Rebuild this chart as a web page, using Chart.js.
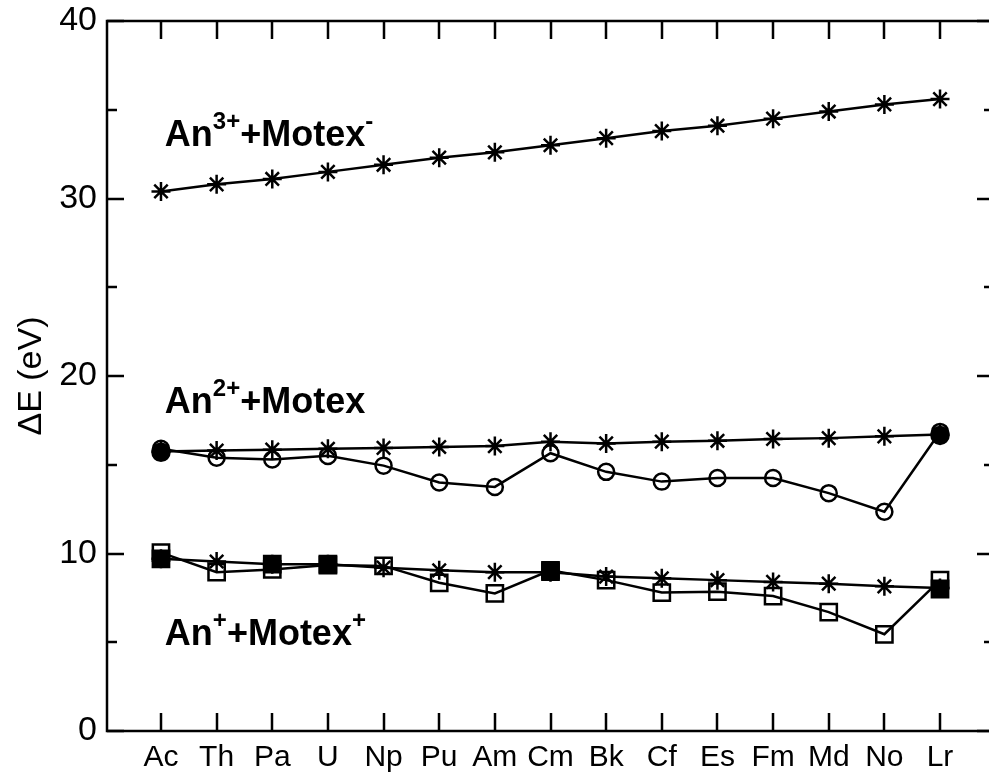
<!DOCTYPE html>
<html><head><meta charset="utf-8">
<script src="https://cdn.jsdelivr.net/npm/chart.js@4"></script>
<style>
html,body{margin:0;padding:0;background:#fff;overflow:hidden}
#wrap{width:989px;height:779px;overflow:hidden;position:relative;background:#fff}
canvas{display:block}
</style></head>
<body><div id="wrap"><canvas id="c" width="1000" height="779"></canvas></div>
<script>
// ---- data ----
const categories = ['Ac','Th','Pa','U','Np','Pu','Am','Cm','Bk','Cf','Es','Fm','Md','No','Lr'];
const an3Star   = [30.4,30.8,31.1,31.5,31.9,32.3,32.6,33.0,33.4,33.8,34.1,34.5,34.9,35.3,35.6];
const an2Star   = [15.75,15.8,15.85,15.9,15.95,16.0,16.05,16.3,16.2,16.3,16.35,16.45,16.5,16.6,16.7];
const an2Circle = [15.9,15.4,15.3,15.5,14.95,14.0,13.75,15.65,14.6,14.05,14.25,14.25,13.4,12.35,16.85];
const an2Filled = [15.7,null,null,null,null,null,null,null,null,null,null,null,null,null,16.65];
const an1Star   = [9.7,9.55,9.4,9.4,9.2,9.05,8.95,8.95,8.7,8.6,8.5,8.4,8.3,8.15,8.05];
const an1Square = [10.05,8.95,9.1,9.35,9.3,8.35,7.75,9.05,8.5,7.8,7.85,7.6,6.7,5.45,8.5];
const an1Filled = [9.7,null,9.4,9.4,null,null,null,8.98,null,null,null,null,null,null,8.0];
const yTickValues = [0,10,20,30,40];
const seriesLabels = [
  [['An',0],['3+',1],['+Motex',0],['-',1]],
  [['An',0],['2+',1],['+Motex',0]],
  [['An',0],['+',1],['+Motex',0],['+',1]]
];

const pts = arr => arr.map((v,i)=>({x:i,y:v}));

const framePlugin = {
  id: 'framePlugin',
  beforeDatasetsDraw(chart) {
    const {ctx, chartArea: a, scales: {x, y}} = chart;
    ctx.save();
    ctx.strokeStyle = '#000';
    ctx.lineWidth = 2.5;
    ctx.strokeRect(a.left, a.top, a.right - a.left, a.bottom - a.top);
    ctx.beginPath();
    for (let v = y.min; v <= y.max; v += 5) {
      const py = Math.round(y.getPixelForValue(v));
      const len = (v % 10 === 0) ? 17 : 10;
      ctx.moveTo(a.left, py); ctx.lineTo(a.left + len, py);
      ctx.moveTo(a.right, py); ctx.lineTo(a.right - len, py);
    }
    categories.forEach((c, i) => {
      const px = Math.round(x.getPixelForValue(i));
      ctx.moveTo(px, a.bottom); ctx.lineTo(px, a.bottom - 18);
      ctx.moveTo(px, a.top); ctx.lineTo(px, a.top + 18);
    });
    ctx.stroke();
    ctx.restore();
  },
  afterDatasetsDraw(chart, args, opts) {
    const {ctx, scales: {x, y}} = chart;
    ctx.save();
    ctx.fillStyle = '#000';
    ctx.textBaseline = 'alphabetic';
    ctx.textAlign = 'left';
    seriesLabels.forEach((parts, k) => {
      const anchor = opts.anchors[k];
      let px = x.getPixelForValue(anchor[0]);
      const py = y.getPixelForValue(anchor[1]);
      parts.forEach(([t, sup]) => {
        ctx.font = sup ? 'bold 24px "Liberation Sans", Arial, sans-serif'
                       : 'bold 36px "Liberation Sans", Arial, sans-serif';
        ctx.fillText(t, px, sup ? py - 17 : py);
        px += ctx.measureText(t).width;
      });
    });
    ctx.restore();
  }
};

const base = {borderColor:'#000', borderWidth:2.5, tension:0, fill:false,
  pointBorderColor:'#000', pointBorderWidth:2.5, pointHoverRadius:0};

new Chart(document.getElementById('c'), {
  type: 'line',
  data: {
    datasets: [
      {...base, data: pts(an2Filled), showLine:false, pointStyle:'circle', pointRadius:8.5, pointBackgroundColor:'#000'},
      {...base, data: pts(an1Filled), showLine:false, pointStyle:'rect', pointRadius:11.5, pointBackgroundColor:'#000'},
      {...base, data: pts(an3Star), pointStyle:'star', pointRadius:9.5, pointBackgroundColor:'#000'},
      {...base, data: pts(an2Star), pointStyle:'star', pointRadius:9.5, pointBackgroundColor:'#000'},
      {...base, data: pts(an1Star), pointStyle:'star', pointRadius:9.5, pointBackgroundColor:'#000'},
      {...base, data: pts(an2Circle), pointStyle:'circle', pointRadius:8, pointBackgroundColor:'rgba(0,0,0,0)'},
      {...base, data: pts(an1Square), pointStyle:'rect', pointRadius:11.5, pointBackgroundColor:'rgba(0,0,0,0)'}
    ]
  },
  options: {
    responsive: false,
    animation: false,
    events: [],
    layout: {autoPadding: false, padding: {top: 21, right: 6, left: 0, bottom: 0}},
    plugins: {
      legend: {display:false},
      tooltip: {enabled:false},
      framePlugin: {anchors: [[0.07, 32.95], [0.07, 17.9], [0.07, 4.85]]}
    },
    scales: {
      x: {
        type: 'linear',
        min: -0.97, max: 14.97,
        grid: {display:false, drawTicks:false},
        border: {display:false},
        afterBuildTicks: s => { s.ticks = categories.map((c,i)=>({value:i})); },
        afterFit: s => { s.height = 48; s.paddingLeft = 0; s.paddingRight = 0; },
        ticks: {
          autoSkip:false, maxRotation:0,
          padding: 9,
          color:'#000',
          font: {family:'"Liberation Sans", Arial, sans-serif', size:30},
          callback: v => categories[v]
        }
      },
      y: {
        min: 0, max: 40,
        grid: {display:false, drawTicks:false},
        border: {display:false},
        afterBuildTicks: s => { s.ticks = yTickValues.map(v=>({value:v})); },
        afterFit: s => { s.width = 107; s.paddingTop = 0; s.paddingBottom = 0; },
        ticks: {
          padding: 10,
          color:'#000',
          font: {family:'"Liberation Sans", Arial, sans-serif', size:34}
        },
        title: {
          display: true,
          text: 'ΔE (eV)',
          color:'#000',
          padding: {top: 11, bottom: 0},
          font: {family:'"Liberation Sans", Arial, sans-serif', size:34}
        }
      }
    }
  },
  plugins: [framePlugin]
});
</script>
</body></html>
